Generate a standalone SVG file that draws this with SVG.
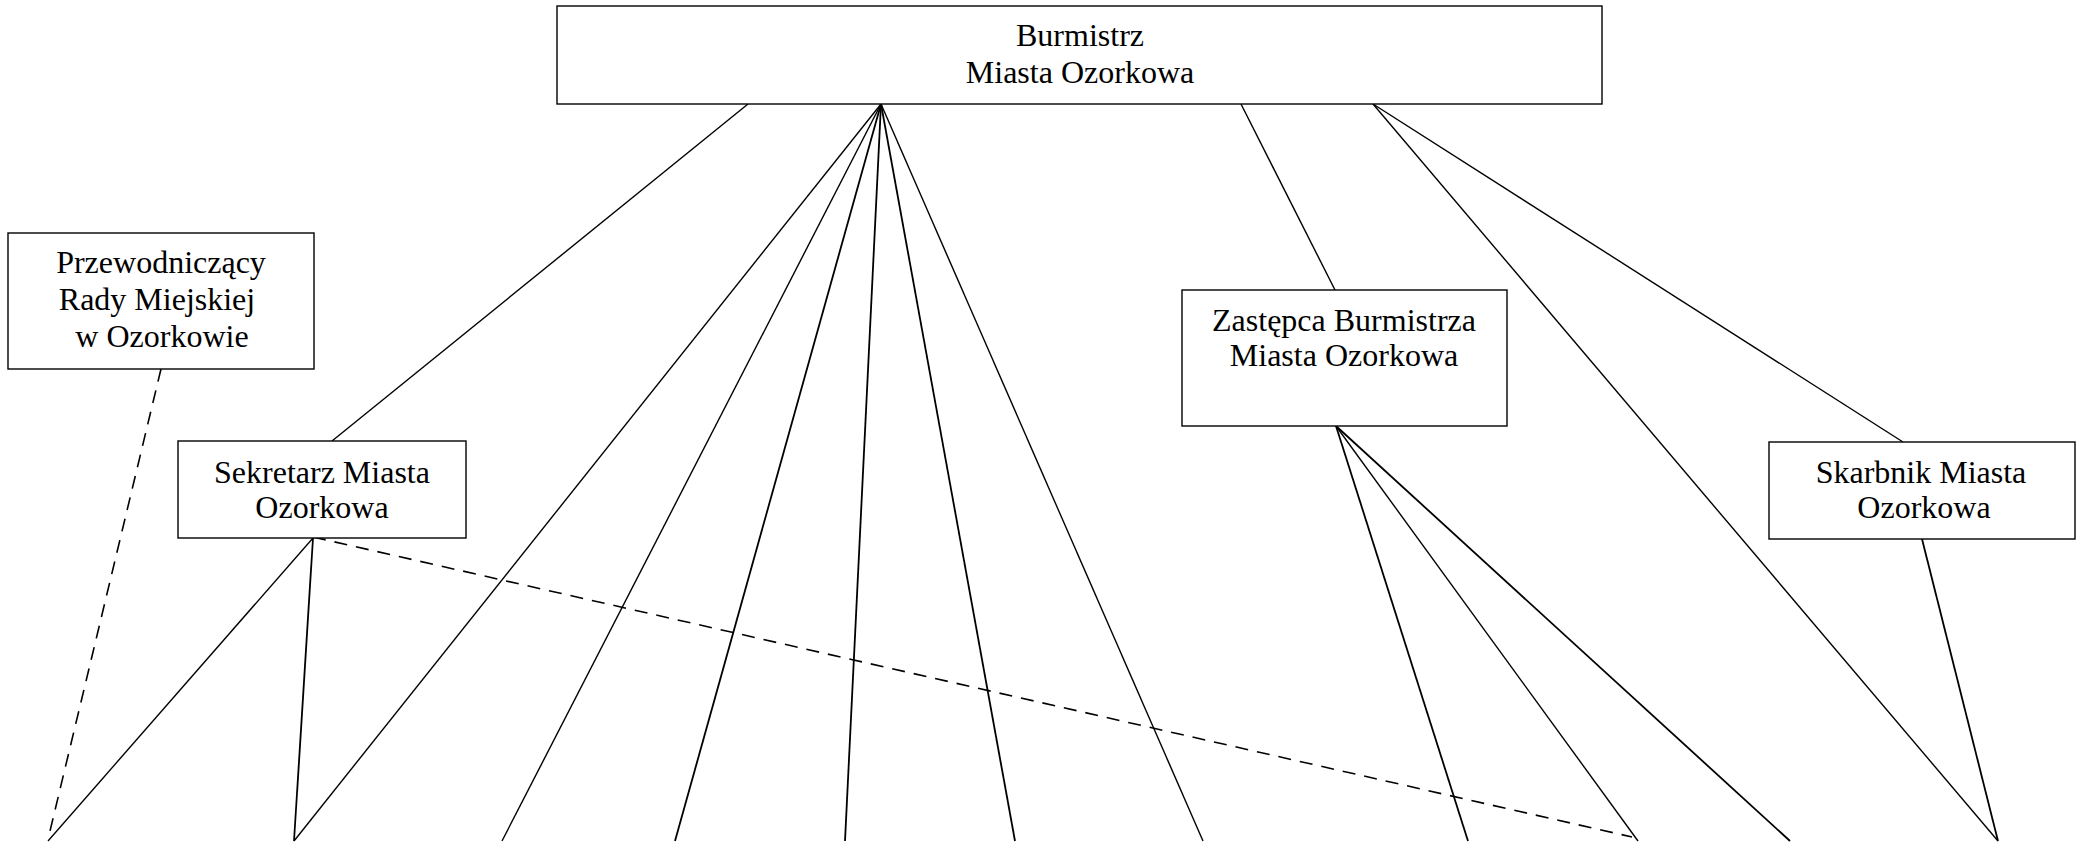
<svg xmlns="http://www.w3.org/2000/svg" width="2084" height="844" viewBox="0 0 2084 844">
<style>
.box{fill:#fff;stroke:#000;stroke-width:1.4}
.t{font-family:"Liberation Serif","Times New Roman",serif;font-size:32px;fill:#000;text-anchor:middle}
.ln{stroke:#000;stroke-width:1.4;fill:none}
.thick{stroke-width:1.8}
.dash{stroke:#000;stroke-width:1.6;fill:none;stroke-dasharray:13 9}
</style>
<rect width="2084" height="844" fill="#fff"/>
<g id="connectors">
<line class="ln" x1="748" y1="104" x2="332" y2="441"/>
<line class="ln" x1="881" y1="104" x2="294" y2="841"/>
<line class="ln" x1="881" y1="104" x2="502" y2="841"/>
<line class="ln thick" x1="881" y1="104" x2="675" y2="841"/>
<line class="ln thick" x1="881" y1="104" x2="845" y2="841"/>
<line class="ln thick" x1="881" y1="104" x2="1015" y2="841"/>
<line class="ln" x1="881" y1="104" x2="1203" y2="841"/>
<line class="ln" x1="1241" y1="104" x2="1335" y2="290"/>
<line class="ln" x1="1373" y1="104" x2="1903" y2="442"/>
<line class="ln" x1="1373" y1="104" x2="1998" y2="841"/>
<line class="ln" x1="313" y1="538" x2="48" y2="841"/>
<line class="ln thick" x1="313" y1="538" x2="294" y2="841"/>
<line class="ln thick" x1="1336" y1="426" x2="1468" y2="841"/>
<line class="ln" x1="1336" y1="426" x2="1638" y2="841"/>
<line class="ln thick" x1="1336" y1="426" x2="1790" y2="841"/>
<line class="ln thick" x1="1922" y1="539" x2="1998" y2="841"/>
<line class="dash" x1="161" y1="369" x2="50" y2="831"/>
<line class="dash" x1="313" y1="537" x2="1632" y2="837"/>
</g>
<g id="burmistrz">
<rect class="box" x="557" y="6" width="1045" height="98"/>
<text class="t" x="1080" y="46">Burmistrz</text>
<text class="t" x="1080" y="83">Miasta Ozorkowa</text>
</g>
<g id="przewodniczacy">
<rect class="box" x="8" y="233" width="306" height="136"/>
<text class="t" x="161" y="273">Przewodniczący</text>
<text class="t" x="157" y="310">Rady Miejskiej</text>
<text class="t" x="162" y="347">w Ozorkowie</text>
</g>
<g id="sekretarz">
<rect class="box" x="178" y="441" width="288" height="97"/>
<text class="t" x="322" y="483">Sekretarz Miasta</text>
<text class="t" x="322" y="518">Ozorkowa</text>
</g>
<g id="zastepca">
<rect class="box" x="1182" y="290" width="325" height="136"/>
<text class="t" x="1344" y="331">Zastępca Burmistrza</text>
<text class="t" x="1344" y="366">Miasta Ozorkowa</text>
</g>
<g id="skarbnik">
<rect class="box" x="1769" y="442" width="306" height="97"/>
<text class="t" x="1921" y="483">Skarbnik Miasta</text>
<text class="t" x="1924" y="518">Ozorkowa</text>
</g>
</svg>
